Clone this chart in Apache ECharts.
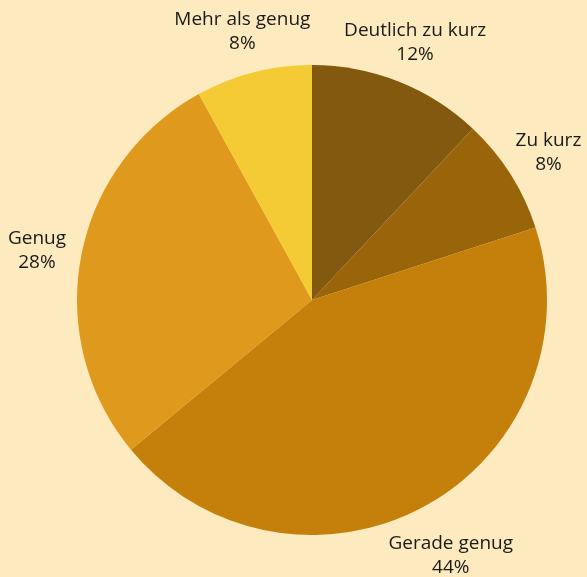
<!DOCTYPE html>
<html>
<head>
<meta charset="utf-8">
<script src="https://cdn.jsdelivr.net/npm/echarts@6/dist/echarts.min.js"></script>
<style>
  html, body { margin: 0; padding: 0; background: #fdebbf; }
  #chart { width: 587px; height: 577px; }
</style>
</head>
<body>
<div id="chart"></div>
<script>
  // Antworten und Anteile (%)
  var categories = ['Deutlich zu kurz', 'Zu kurz', 'Gerade genug', 'Genug', 'Mehr als genug'];
  var values = [12, 8, 44, 28, 8];
  var colors = ['#82590e', '#9a640a', '#c4800a', '#df9a1d', '#f4cb34'];

  var cx = 312, cy = 300, radius = 235, labelDist = 280;

  var total = values.reduce(function (a, b) { return a + b; }, 0);
  // mittlerer Winkel jedes Stücks, im Uhrzeigersinn ab 12 Uhr
  var midAngles = [];
  var acc = 0;
  for (var i = 0; i < values.length; i++) {
    midAngles.push((acc + values[i] / 2) / total * Math.PI * 2);
    acc += values[i];
  }

  var data = categories.map(function (name, i) {
    return { name: name, value: values[i], itemStyle: { color: colors[i] } };
  });

  var myChart = echarts.init(document.getElementById('chart'));
  myChart.setOption({
    backgroundColor: '#fdebbf',
    animation: false,
    series: [
      {
        type: 'pie',
        center: [cx, cy],
        radius: radius,
        startAngle: 90,
        clockwise: true,
        data: data,
        itemStyle: { borderWidth: 0 },
        label: {
          show: true,
          position: 'outside',
          alignTo: 'none',
          overflow: 'none',
          formatter: '{b}\n{d}%',
          color: '#1a1a1a',
          fontFamily: 'Open Sans',
          fontSize: 19,
          lineHeight: 24,
          align: 'center'
        },
        labelLine: { show: false },
        labelLayout: function (params) {
          var a = midAngles[params.dataIndex];
          var d = labelDist + (params.dataIndex === 2 ? 8 : 0);
          return {
            x: cx + d * Math.sin(a),
            y: cy - d * Math.cos(a) + 3,
            align: 'center',
            verticalAlign: 'middle'
          };
        }
      }
    ]
  });
</script>
</body>
</html>
